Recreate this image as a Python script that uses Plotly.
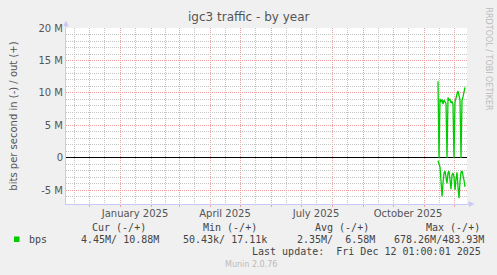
import plotly.graph_objects as go

# ---------------- data ----------------
dates = ["2025-11-15", "2025-11-16", "2025-11-17", "2025-11-18", "2025-11-19", "2025-11-20",
         "2025-11-21", "2025-11-22", "2025-11-23", "2025-11-24", "2025-11-25", "2025-11-26",
         "2025-11-27", "2025-11-28", "2025-11-29", "2025-11-30", "2025-12-01", "2025-12-02",
         "2025-12-03", "2025-12-04", "2025-12-05", "2025-12-06", "2025-12-07", "2025-12-08",
         "2025-12-09", "2025-12-10", "2025-12-11", "2025-12-12"]
out_bps = [11.8e6, 0, 9.1e6, 8.6e6, 9.0e6, 8.3e6, 8.9e6, 8.6e6, 8.4e6, 0, 9.3e6, 8.9e6,
           9.0e6, 8.5e6, 8.7e6, 8.2e6, 0, 8.6e6, 9.5e6, 9.8e6, 10.3e6, 9.2e6, 8.9e6, 0,
           8.9e6, 9.4e6, 10.2e6, 10.88e6]
in_bps = [0.4e6, 0.9e6, 1.4e6, 3.5e6, 5.9e6, 3.9e6, 2.3e6, 2.0e6, 2.8e6, 3.9e6, 2.3e6, 2.0e6,
          3.4e6, 4.8e6, 2.6e6, 2.3e6, 3.0e6, 4.9e6, 3.2e6, 2.2e6, 4.5e6, 6.2e6, 3.6e6, 2.2e6,
          2.0e6, 2.6e6, 3.4e6, 4.45e6]

y_tickvals = [-5e6, 0, 5e6, 10e6, 15e6, 20e6]
y_ticktext = ["-5 M", "0", "5 M", "10 M", "15 M", "20 M"]

# x: month starts (red grid) and mid-month (grey grid / labels)
month_starts = ["2024-12-01", "2025-01-01", "2025-02-01", "2025-03-01", "2025-04-01",
                "2025-05-01", "2025-06-01", "2025-07-01", "2025-08-01", "2025-09-01",
                "2025-10-01", "2025-11-01", "2025-12-01"]
mid_months = ["2024-11-16", "2024-12-16", "2025-01-16", "2025-02-15", "2025-03-16",
              "2025-04-16", "2025-05-16", "2025-06-16", "2025-07-16", "2025-08-16",
              "2025-09-16", "2025-10-16", "2025-11-16"]
mid_labels = ["", "", "January 2025", "", "", "April 2025", "", "", "July 2025", "", "",
              "October 2025", ""]

title = "igc3 traffic - by year"
y_title = "bits per second in (-) / out (+)"
legend_name = "bps"
headers = ["Cur (-/+)", "Min (-/+)", "Avg (-/+)", "Max (-/+)"]
values = ["4.45M/ 10.88M", "50.43k/ 17.11k", "2.35M/  6.58M", "678.26M/483.93M"]
last_update = "Last update:  Fri Dec 12 01:00:01 2025"
munin_ver = "Munin 2.0.76"
side_text = "RRDTOOL / TOBI OETIKER"

# ---------------- layout geometry ----------------
W, H = 497, 275
L, R, T, B = 66, 30, 28, 71
PW, PH = W - L - R, H - T - B


def px(x):
    return (x - L) / PW


def py(y):
    return (H - B - y) / PH


GREEN = "#00CC00"
TXT = "#555555"
MONO = "DejaVu Sans Mono"
SANS = "DejaVu Sans"
GRID_GREY = "#C4C4C4"
GRID_RED = "#F0A0A0"
AXIS = "#C8C8F4"
DOTS = "1px,1px"

fig = go.Figure()
fig.add_trace(go.Scatter(x=dates, y=out_bps, mode="lines",
                         line=dict(color=GREEN, width=1.3), showlegend=False,
                         hoverinfo="skip"))
fig.add_trace(go.Scatter(x=dates, y=[-v for v in in_bps], mode="lines",
                         line=dict(color=GREEN, width=1.3), showlegend=False,
                         hoverinfo="skip"))

fig.update_layout(
    width=W, height=H,
    margin=dict(l=L, r=R, t=T, b=B),
    paper_bgcolor="#F0F0F0",
    plot_bgcolor="#FFFFFF",
    font=dict(family=SANS, size=10, color=TXT),
    showlegend=False,
)

fig.update_xaxes(
    type="date",
    range=["2024-11-08", "2025-12-14"],
    tickmode="array", tickvals=mid_months, ticktext=mid_labels,
    showgrid=True, gridcolor=GRID_GREY, griddash=DOTS, gridwidth=1,
    ticks="", tickfont=dict(family=SANS, size=10, color=TXT),
    showline=True, linecolor=AXIS, linewidth=1,
    zeroline=False,
    minor=dict(tickmode="array", tickvals=month_starts, showgrid=True,
               gridcolor=GRID_RED, griddash=DOTS, gridwidth=1,
               ticks="outside", ticklen=2, tickcolor=GRID_RED),
)
fig.update_yaxes(
    range=[-7.08e6, 20e6],
    tickmode="array", tickvals=y_tickvals, ticktext=y_ticktext,
    showgrid=True, gridcolor=GRID_RED, griddash=DOTS, gridwidth=1,
    ticks="", tickfont=dict(family=SANS, size=10, color=TXT),
    showline=True, linecolor=AXIS, linewidth=1,
    zeroline=True, zerolinecolor="#000000", zerolinewidth=1,
    minor=dict(dtick=1e6, showgrid=True, gridcolor=GRID_GREY, griddash=DOTS, gridwidth=1),
    title=dict(text=y_title, font=dict(family=SANS, size=10, color=TXT), standoff=18),
)

# axis arrows (pixel-sized shapes anchored to the plot corners)
fig.add_shape(type="path", xref="paper", yref="paper", xsizemode="pixel", ysizemode="pixel",
              xanchor=0, yanchor=1, path="M -2.5,2 L 2.5,2 L 0,7 Z",
              fillcolor=AXIS, line=dict(color=AXIS, width=0.5))
fig.add_shape(type="line", xref="paper", yref="paper", xsizemode="pixel", ysizemode="pixel",
              xanchor=0, yanchor=1, x0=0, x1=0, y0=0, y1=2,
              line=dict(color=AXIS, width=1))
fig.add_shape(type="path", xref="paper", yref="paper", xsizemode="pixel", ysizemode="pixel",
              xanchor=1, yanchor=0, path="M 2,-2.5 L 2,2.5 L 7,0 Z",
              fillcolor=AXIS, line=dict(color=AXIS, width=0.5))
fig.add_shape(type="line", xref="paper", yref="paper", xsizemode="pixel", ysizemode="pixel",
              xanchor=1, yanchor=0, x0=0, x1=2, y0=0, y1=0,
              line=dict(color=AXIS, width=1))

ann = []
ann.append(dict(text=title, x=px(248.5), y=py(17), xref="paper", yref="paper",
                showarrow=False, xanchor="center", yanchor="middle",
                font=dict(family=SANS, size=12, color=TXT)))
ann.append(dict(text=side_text, x=px(488), y=py(5), xref="paper", yref="paper",
                showarrow=False, xanchor="center", yanchor="top", textangle=90,
                font=dict(family=SANS, size=8, color="#BBBBBB")))
header_x = [90, 201, 312.5, 424]
value_x = [79, 180.5, 295, 391.5]
for h, hx in zip(headers, header_x):
    ann.append(dict(text=h, x=px(hx), y=py(227.7), xref="paper", yref="paper",
                    showarrow=False, xanchor="left", yanchor="middle",
                    font=dict(family=MONO, size=10, color="#444444")))
for v, vx in zip(values, value_x):
    ann.append(dict(text=v.replace(" ", "&nbsp;"), x=px(vx), y=py(239.5), xref="paper",
                    yref="paper", showarrow=False, xanchor="left", yanchor="middle",
                    font=dict(family=MONO, size=10, color="#444444")))
ann.append(dict(text=legend_name, x=px(26.5), y=py(239.5), xref="paper", yref="paper",
                showarrow=False, xanchor="left", yanchor="middle",
                font=dict(family=MONO, size=10, color="#444444")))
ann.append(dict(text=last_update.replace(" ", "&nbsp;"), x=px(483), y=py(251.7),
                xref="paper", yref="paper", showarrow=False, xanchor="right",
                yanchor="middle", font=dict(family=MONO, size=10, color="#444444")))
ann.append(dict(text=munin_ver, x=px(223), y=py(264), xref="paper", yref="paper",
                showarrow=False, xanchor="left", yanchor="middle",
                font=dict(family=SANS, size=8, color="#BBBBBB")))
fig.update_layout(annotations=ann)

# legend colour square
fig.add_shape(type="rect", xref="paper", yref="paper",
              x0=px(14), x1=px(19.5), y0=py(242), y1=py(236.5),
              fillcolor=GREEN, line=dict(width=0))

fig.write_html("out.html")
